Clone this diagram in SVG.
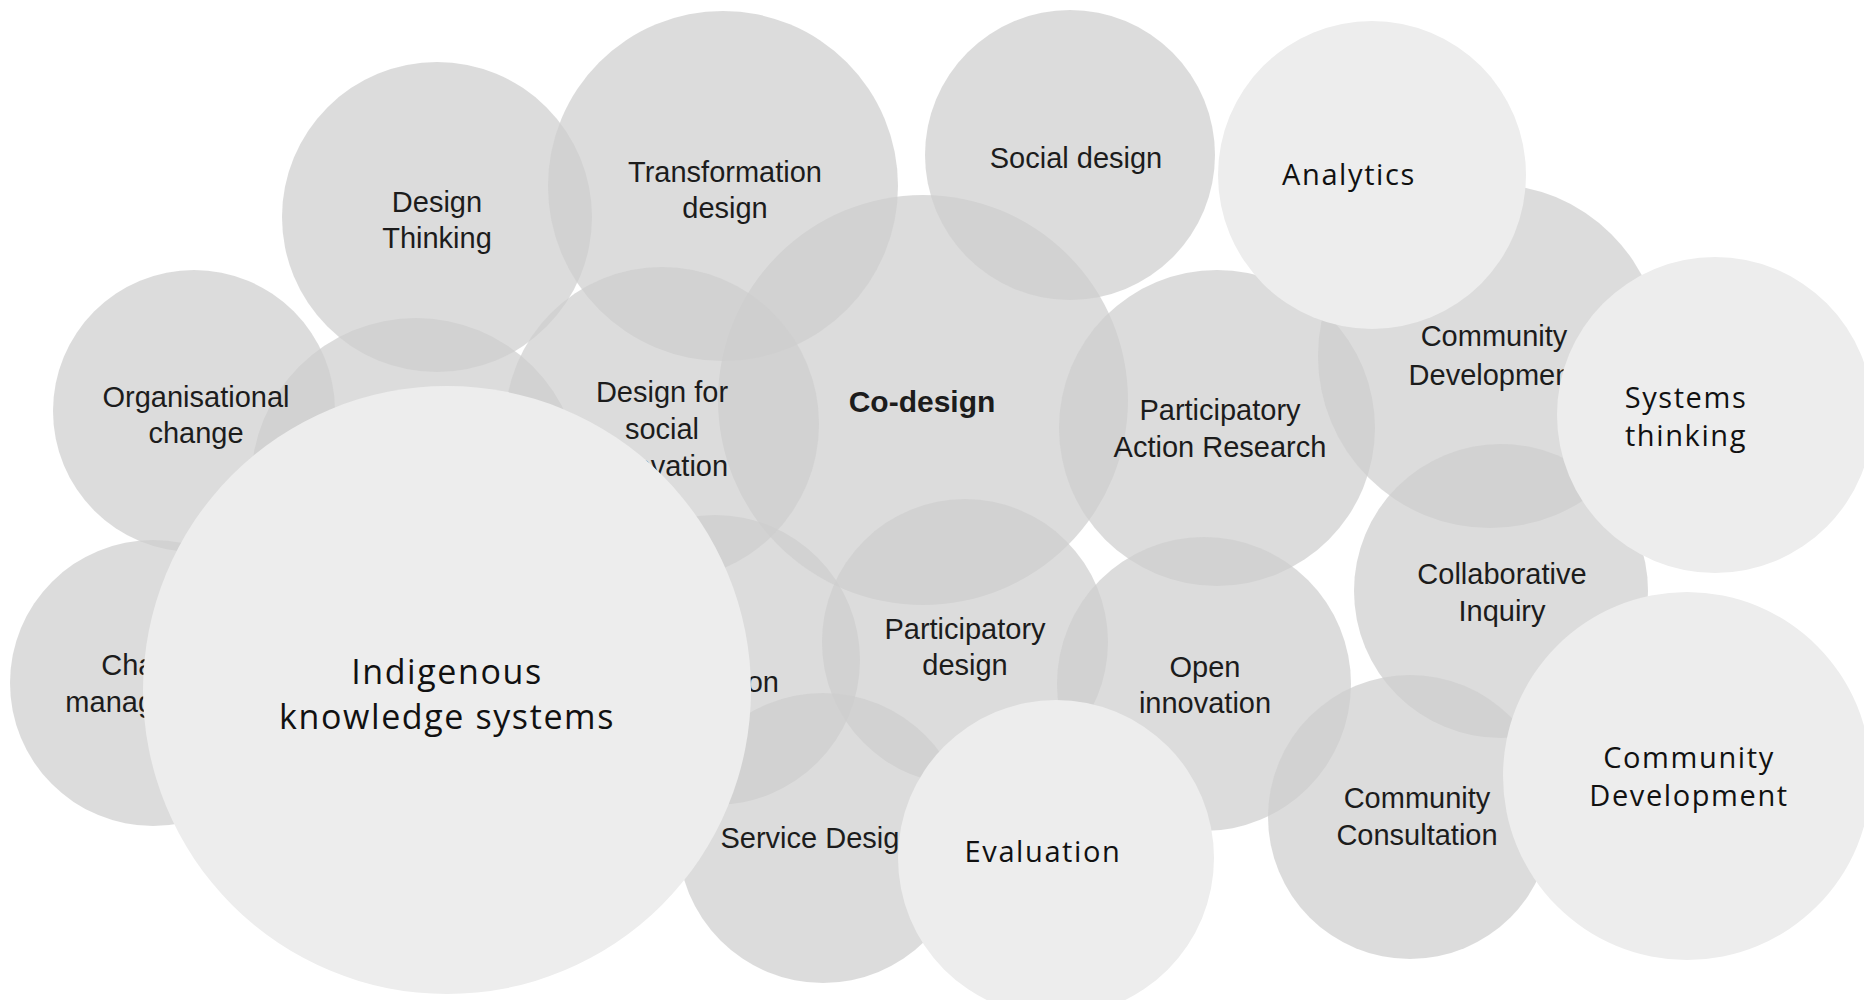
<svg xmlns="http://www.w3.org/2000/svg" width="1864" height="1000" viewBox="0 0 1864 1000">
<style>
.g{fill:#cecece;fill-opacity:0.71}
.l{fill:#ededed}
.t{font-family:"Liberation Sans",Arial,sans-serif;font-size:29px;fill:#1c1c1c;text-anchor:middle}
.b{font-weight:bold;font-size:30px}
.s{font-family:"Open Sans","Noto Sans",sans-serif;font-size:29px;letter-spacing:1.6px;fill:#111;text-anchor:middle}
.big{font-size:34px;letter-spacing:1.6px}
</style>
<rect width="1864" height="1000" fill="#ffffff"/>
<g id="connectors"></g>
<g id="node-hidden"><circle class="g" cx="416" cy="483" r="165"/></g>
<g id="node-innovation"><circle class="g" cx="715" cy="660" r="145"/><text class="t" x="779" y="692" style="text-anchor:end">on</text></g>
<g id="node-co-design"><circle class="g" cx="923" cy="400" r="205"/><text class="t b" x="922" y="412">Co-design</text></g>
<g id="node-design-thinking"><circle class="g" cx="437" cy="217" r="155"/><text class="t" x="437" y="212">Design</text><text class="t" x="437" y="248">Thinking</text></g>
<g id="node-transformation-design"><circle class="g" cx="723" cy="186" r="175"/><text class="t" x="725" y="182">Transformation</text><text class="t" x="725" y="218">design</text></g>
<g id="node-social-design"><circle class="g" cx="1070" cy="155" r="145"/><text class="t" x="1076" y="168">Social design</text></g>
<g id="node-organisational-change"><circle class="g" cx="194" cy="411" r="141"/><text class="t" x="196" y="407">Organisational</text><text class="t" x="196" y="443">change</text></g>
<g id="node-design-for-social-innovation"><circle class="g" cx="662" cy="424" r="157"/><text class="t" x="662" y="402">Design for</text><text class="t" x="662" y="439">social</text><text class="t" x="662" y="476">innovation</text></g>
<g id="node-change-management"><circle class="g" cx="153" cy="683" r="143"/><text class="t" x="152" y="675">Change</text><text class="t" x="150" y="712">management</text></g>
<g id="node-participatory-design"><circle class="g" cx="965" cy="642" r="143"/><text class="t" x="965" y="639">Participatory</text><text class="t" x="965" y="675">design</text></g>
<g id="node-service-design"><circle class="g" cx="823" cy="838" r="145"/><text class="t" x="818" y="848">Service Design</text></g>
<g id="node-par"><circle class="g" cx="1217" cy="428" r="158"/><text class="t" x="1220" y="420">Participatory</text><text class="t" x="1220" y="457">Action Research</text></g>
<g id="node-community-development-1"><circle class="g" cx="1490" cy="356" r="172"/><text class="t" x="1494" y="346">Community</text><text class="t" x="1494" y="385">Development</text></g>
<g id="node-collaborative-inquiry"><circle class="g" cx="1501" cy="591" r="147"/><text class="t" x="1502" y="584">Collaborative</text><text class="t" x="1502" y="621">Inquiry</text></g>
<g id="node-open-innovation"><circle class="g" cx="1204" cy="684" r="147"/><text class="t" x="1205" y="677">Open</text><text class="t" x="1205" y="713">innovation</text></g>
<g id="node-community-consultation"><circle class="g" cx="1410" cy="817" r="142"/><text class="t" x="1417" y="808">Community</text><text class="t" x="1417" y="845">Consultation</text></g>
<g id="node-indigenous"><circle class="l" cx="447" cy="690" r="304"/><text class="s big" x="447" y="684">Indigenous</text><text class="s big" x="447" y="729">knowledge systems</text></g>
<g id="node-analytics"><circle class="l" cx="1372" cy="175" r="154"/><text class="s" x="1349" y="185">Analytics</text></g>
<g id="node-systems-thinking"><circle class="l" cx="1715" cy="415" r="158"/><text class="s" x="1686" y="408">Systems</text><text class="s" x="1686" y="446">thinking</text></g>
<g id="node-community-development-2"><circle class="l" cx="1687" cy="776" r="184"/><text class="s" x="1689" y="768">Community</text><text class="s" x="1689" y="806">Development</text></g>
<g id="node-evaluation"><circle class="l" cx="1056" cy="858" r="158"/><text class="s" x="1043" y="862">Evaluation</text></g>
</svg>
